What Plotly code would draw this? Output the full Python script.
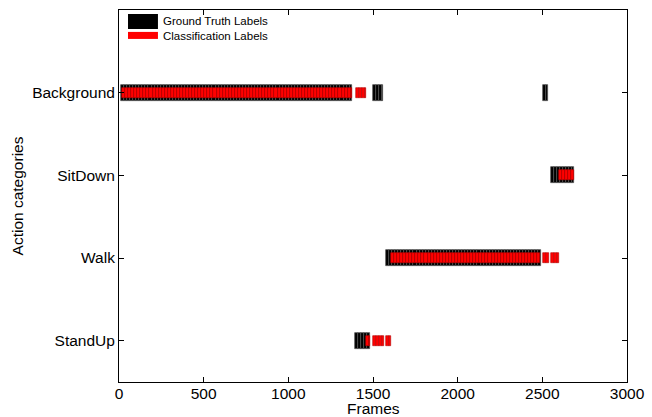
import plotly.graph_objects as go

# ---- data ----
categories = ["StandUp", "Walk", "SitDown", "Background"]

gt_category = ["Background", "Background", "Background", "StandUp", "Walk", "SitDown"]
gt_start = [12, 1500, 2504, 1394, 1577, 2551]
gt_end = [1376, 1559, 2534, 1483, 2492, 2687]

cls_category = ["Background", "Background", "StandUp", "StandUp", "StandUp",
                "Walk", "Walk", "Walk", "SitDown"]
cls_start = [18, 1400, 1460, 1500, 1577, 1606, 2504, 2551, 2598]
cls_end = [1376, 1459, 1483, 1565, 1606, 2486, 2540, 2598, 2687]

block = 18  # frames per plotted block

x_ticks = [0, 500, 1000, 1500, 2000, 2500, 3000]


def expand(cats, starts, ends):
    ys, bases, widths = [], [], []
    for c, s, e in zip(cats, starts, ends):
        yv = categories.index(c) + 1
        f = s
        while f < e:
            w = min(block, e - f)
            ys.append(yv)
            bases.append(f)
            widths.append(w)
            f += block
    return ys, bases, widths


fig = go.Figure()

gy, gb, gw = expand(gt_category, gt_start, gt_end)
fig.add_trace(go.Bar(
    y=gy, base=gb, x=gw, orientation="h", width=0.19,
    marker=dict(color="black", line=dict(color="#555555", width=0.7)),
    name="Ground Truth Labels", showlegend=False, hoverinfo="skip",
))

cy, cb, cw = expand(cls_category, cls_start, cls_end)
fig.add_trace(go.Bar(
    y=cy, base=cb, x=cw, orientation="h", width=0.12,
    marker=dict(color="#ff0000", line=dict(color="#b00000", width=0.6)),
    name="Classification Labels", showlegend=False, hoverinfo="skip",
))

# custom legend (wide rectangles as in the reference)
fig.add_shape(type="rect", xref="x", yref="y", x0=53, x1=230, y0=4.77, y1=4.952,
              fillcolor="black", line=dict(width=0))
fig.add_shape(type="rect", xref="x", yref="y", x0=53, x1=230, y0=4.65, y1=4.735,
              fillcolor="#ff0000", line=dict(width=0))
fig.add_annotation(x=248, y=4.861, xref="x", yref="y", text="Ground Truth Labels",
                   showarrow=False, xanchor="left", yanchor="middle",
                   font=dict(size=11.5, color="black"))
fig.add_annotation(x=248, y=4.69, xref="x", yref="y", text="Classification Labels",
                   showarrow=False, xanchor="left", yanchor="middle",
                   font=dict(size=11.5, color="black"))

# x-axis title placed explicitly
fig.add_annotation(x=0.5, y=-0.072, xref="paper", yref="paper", text="Frames",
                   showarrow=False, xanchor="center", yanchor="middle",
                   font=dict(size=15.5, color="black"))

fig.update_layout(
    width=652, height=417,
    margin=dict(l=119, r=25, t=10, b=35),
    paper_bgcolor="white", plot_bgcolor="white",
    barmode="overlay", bargap=0,
    font=dict(family="Liberation Sans, Arial, sans-serif", size=15.5, color="black"),
    showlegend=False,
)
fig.update_xaxes(
    range=[0, 3000], tickvals=x_ticks, ticks="inside", ticklen=5,
    tickcolor="black", showline=True, linecolor="black", linewidth=1,
    mirror="ticks", showgrid=False, zeroline=False, automargin=False,
    ticklabelstandoff=-3,
    tickfont=dict(size=15.5),
)
fig.update_yaxes(
    range=[0.5, 5], tickvals=[1, 2, 3, 4], ticktext=categories,
    ticks="inside", ticklen=5, tickcolor="black", showline=True,
    linecolor="black", linewidth=1, mirror="ticks", showgrid=False,
    zeroline=False, automargin=False,
    title=dict(text="Action categories", standoff=4, font=dict(size=15.5)),
    tickfont=dict(size=15.5),
)

fig.write_html("out.html")
